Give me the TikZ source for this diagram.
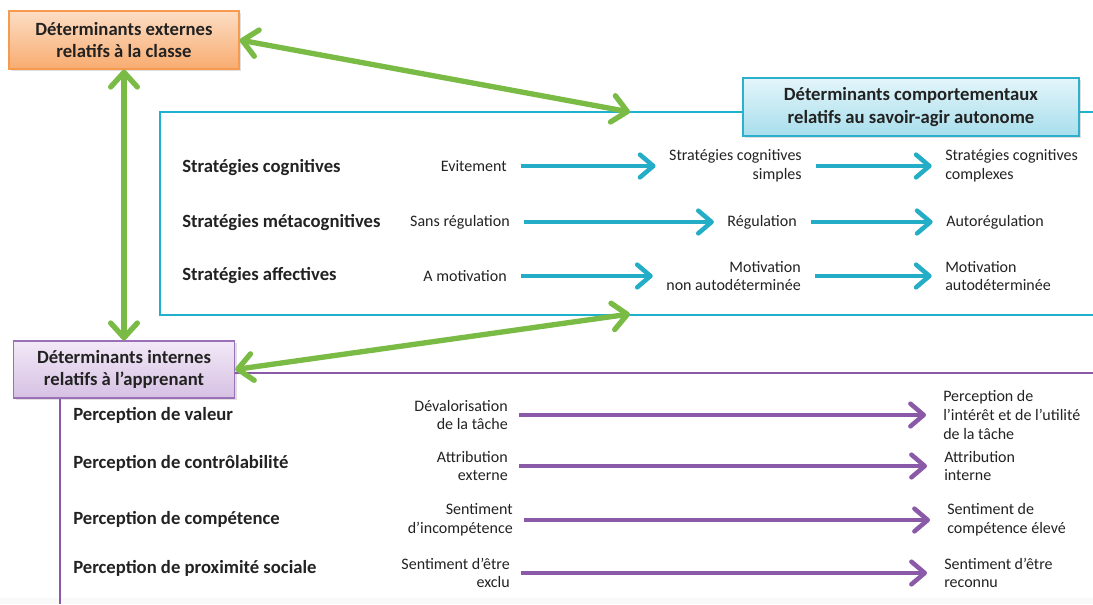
\documentclass[tikz,border=0pt]{standalone}
\usepackage{fontspec}
\setmainfont{Carlito}
\usetikzlibrary{arrows.meta,shadows}

\definecolor{txt}{HTML}{222222}
\definecolor{orgline}{HTML}{F59A4E}
\definecolor{orgtop}{HTML}{FCDDC4}
\definecolor{orgbot}{HTML}{F8AC70}
\definecolor{cyline}{HTML}{2DB0CE}
\definecolor{cytop}{HTML}{E3F5FA}
\definecolor{cybot}{HTML}{A8DEEC}
\definecolor{puline}{HTML}{9A70B8}
\definecolor{putop}{HTML}{F2E9F7}
\definecolor{pubot}{HTML}{D6C0E3}
\definecolor{frame}{HTML}{1FB0CC}
\definecolor{cyarr}{HTML}{24ADC6}
\definecolor{puarr}{HTML}{8A5AA8}
\definecolor{grn}{HTML}{7ABB45}

\begin{document}
\begin{tikzpicture}[x=0.75pt,y=-0.75pt,
  titlebox/.style={font=\fontsize{14}{17}\selectfont\bfseries, align=center,
    text=txt, line width=1pt, inner sep=0pt,
    drop shadow={opacity=0.25, shadow xshift=1.5pt, shadow yshift=-1.5pt}},
  head/.style={font=\fontsize{14}{17}\selectfont\bfseries, anchor=west,
    inner sep=0pt, text=txt},
  lbl/.style={font=\fontsize{12}{14}\selectfont, inner sep=0pt, text=txt},
  lblr/.style={lbl, anchor=east, align=right},
  lbll/.style={lbl, anchor=west, align=left},
  barb/.tip={Straight Barb[length=10pt, width=17pt, round]},
  gbarb/.tip={Straight Barb[length=11pt, width=20pt, round]},
  cyarrow/.style={draw=cyarr, line width=3.4pt, -barb,
    shorten <=10.5pt, shorten >=10pt},
  puarrow/.style={draw=puarr, line width=3.4pt, -barb,
    shorten <=8.25pt, shorten >=12.75pt},
  grarrow/.style={draw=grn, line width=4pt, gbarb-gbarb}
]
\useasboundingbox (0,0) rectangle (1093,604);

% faint band along the bottom edge
\fill[black!2.5] (0,598) rectangle (1093,604);

% open frame of the behavioural determinants
\draw[frame, line width=2pt] (1093,112) -- (160,112) -- (160,315) -- (1093,315);

% boxes
\node[titlebox, draw=orgline, top color=orgtop, bottom color=orgbot,
  minimum width=172.5pt, minimum height=43.5pt] (ext) at (124,40)
  {Déterminants externes\\relatifs à la classe};
\node[titlebox, draw=cyline, top color=cytop, bottom color=cybot,
  minimum width=252pt, minimum height=43.5pt] (comp) at (911,107)
  {Déterminants comportementaux\\relatifs au savoir-agir autonome};
\node[titlebox, draw=puline, top color=putop, bottom color=pubot,
  minimum width=165.75pt, minimum height=42.75pt] (int) at (124,369.5)
  {Déterminants internes\\relatifs à l’apprenant};

% lines leaving the learner box
\coordinate (pr) at (1093,373);
\coordinate (pb) at (60,604);
\draw[puarr, line width=2pt] (int.east |- pr) -- (pr);
\draw[puarr, line width=2pt] (int.south -| pb) -- (pb);

% cyan rows
\node[head] (sc) at (182,168) {Stratégies cognitives};
\node[head] (sm) at (182,223) {Stratégies métacognitives};
\node[head] (sa) at (182,276) {Stratégies affectives};

\node[lblr] (c11) at (507,166) {Evitement};
\node[lblr] (c12) at (802,166) {Stratégies cognitives\\simples};
\node[lbll] (c13) at (945,166) {Stratégies cognitives\\complexes};
\node[lblr] (c21) at (510,222) {Sans régulation};
\node[lblr] (c22) at (797,222) {Régulation};
\node[lbll] (c23) at (946,222) {Autorégulation};
\node[lblr] (c31) at (507,276) {A motivation};
\node[lblr] (c32) at (801,276) {Motivation\\non autodéterminée};
\node[lbll] (c33) at (945,276) {Motivation\\autodéterminée};

\draw[cyarrow] (c11.east) -- (c12.west);
\draw[cyarrow] (c12.east) -- (c13.west);
\draw[cyarrow] (c21.east) -- (c22.west);
\draw[cyarrow] (c22.east) -- (c23.west);
\draw[cyarrow] (c31.east) -- (c32.west);
\draw[cyarrow] (c32.east) -- (c33.west);

% purple rows
\node[head] (p1) at (73,415) {Perception de valeur};
\node[head] (p2) at (73,463) {Perception de contrôlabilité};
\node[head] (p3) at (73,519) {Perception de compétence};
\node[head] (p4) at (73,568) {Perception de proximité sociale};

\node[lblr] (q11) at (508,415) {Dévalorisation\\de la tâche};
\node[lbll] (q12) at (943,415) {Perception de\\l’intérêt et de l’utilité\\de la tâche};
\node[lblr] (q21) at (508,466) {Attribution\\externe};
\node[lbll] (q22) at (944,466) {Attribution\\interne};
\node[lblr] (q31) at (513,520) {Sentiment\\d’incompétence};
\node[lbll] (q32) at (947,520) {Sentiment de\\compétence élevé};
\node[lblr] (q41) at (510,573) {Sentiment d’être\\exclu};
\node[lbll] (q42) at (944,573) {Sentiment d’être\\reconnu};

\draw[puarrow] (q11.east) -- (q12.west);
\draw[puarrow] (q21.east) -- (q22.west);
\draw[puarrow] (q31.east) -- (q32.west);
\draw[puarrow] (q41.east) -- (q42.west);

% links between the three groups of determinants
\coordinate (ct) at (630,112);
\coordinate (cb) at (630,314);
\draw[grarrow] (ext.east) -- (ct);
\draw[grarrow] (ext.south) -- (int.north);
\draw[grarrow] (int.east) -- (cb);
\end{tikzpicture}
\end{document}
